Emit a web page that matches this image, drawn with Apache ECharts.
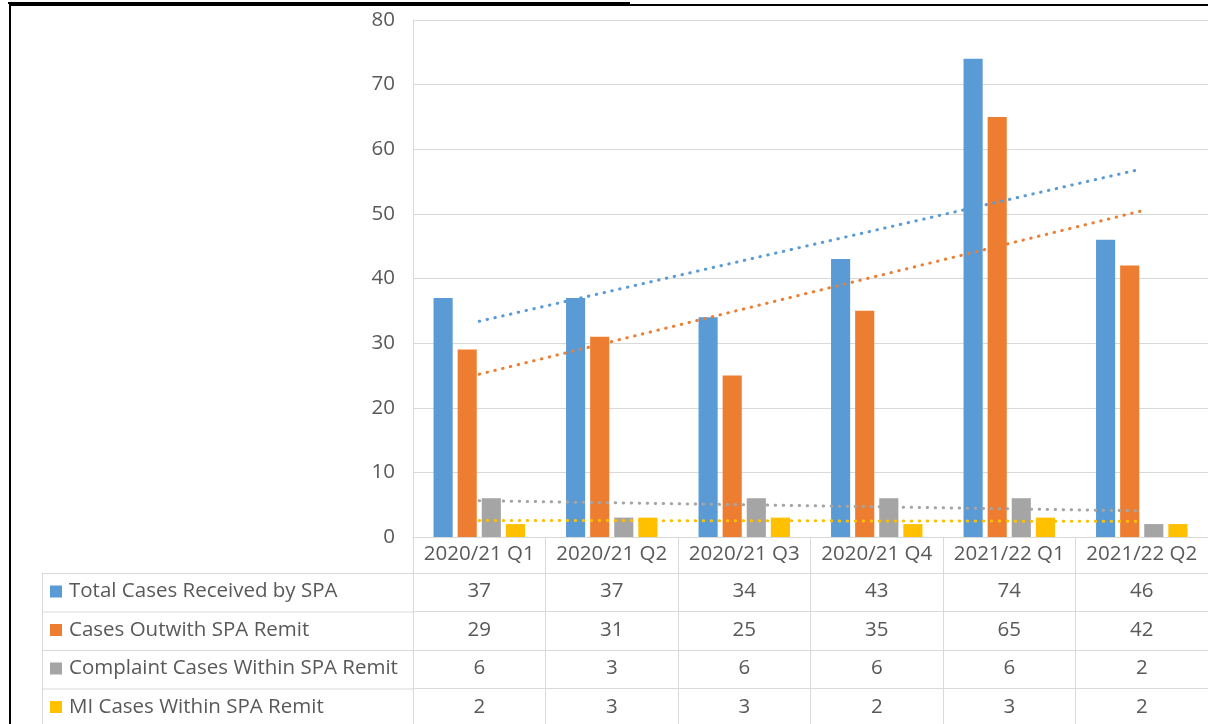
<!DOCTYPE html>
<html>
<head>
<meta charset="utf-8">
<script src="https://cdn.jsdelivr.net/npm/echarts@6/dist/echarts.min.js"></script>
<style>
  html, body { margin: 0; padding: 0; background: #fff; }
  #chart { width: 1208px; height: 724px; }
</style>
</head>
<body>
<div id="chart"></div>
<script>
// categories (quarters)
var quarters = ['2020/21 Q1', '2020/21 Q2', '2020/21 Q3', '2020/21 Q4', '2021/22 Q1', '2021/22 Q2'];
// series names
var seriesNames = ['Total Cases Received by SPA', 'Cases Outwith SPA Remit', 'Complaint Cases Within SPA Remit', 'MI Cases Within SPA Remit'];
// values per series
var totalCases = [37, 37, 34, 43, 74, 46];
var outwithCases = [29, 31, 25, 35, 65, 42];
var complaintCases = [6, 3, 6, 6, 6, 2];
var miCases = [2, 3, 3, 2, 3, 2];
// y axis range
var yMin = 0, yMax = 80, yStep = 10;

var allValues = [totalCases, outwithCases, complaintCases, miCases];
var colors = ['#5B9BD5', '#ED7D31', '#A5A5A5', '#FFC000'];
var textColor = '#595959';
var gridColor = '#D9D9D9';
var fontFamily = '"Open Sans", "Liberation Sans", sans-serif';
var fontSize = 20.5;

// 表格行的位置
var plotLeft = 413, plotBottom = 537;
var rowTops = [537, 573, 611.5, 650, 688.5];

// Excel 的线性趋势线（最小二乘）
function trendOf(vals) {
    var n = vals.length, sx = 0, sy = 0, sxy = 0, sxx = 0;
    for (var i = 0; i < n; i++) {
        sx += i; sy += vals[i]; sxy += i * vals[i]; sxx += i * i;
    }
    var slope = (n * sxy - sx * sy) / (n * sxx - sx * sx);
    var icpt = (sy - slope * sx) / n;
    var out = [];
    for (var j = 0; j < n; j++) out.push(+(icpt + slope * j).toFixed(3));
    return out;
}

var chart = echarts.init(document.getElementById('chart'));

// 数据表的几行：每行是一个额外的 x 轴
var xAxes = [{
    type: 'category',
    data: quarters,
    gridIndex: 0,
    position: 'bottom',
    boundaryGap: true,
    axisLine: { show: true, lineStyle: { color: gridColor, width: 1 } },
    axisTick: { show: true, alignWithLabel: false, length: rowTops[1] - rowTops[0], lineStyle: { color: gridColor } },
    axisLabel: { color: textColor, fontSize: fontSize, fontFamily: fontFamily, margin: 7, interval: 0 }
}];
for (var r = 0; r < allValues.length; r++) {
    (function (vals, r) {
        var h = (r + 2 < rowTops.length ? rowTops[r + 2] : 730) - rowTops[r + 1];
        xAxes.push({
            type: 'category',
            data: quarters,
            gridIndex: 0,
            position: 'bottom',
            offset: rowTops[r + 1] - plotBottom,
            boundaryGap: true,
            axisLine: { show: true, lineStyle: { color: gridColor, width: 1 } },
            axisTick: { show: true, alignWithLabel: false, length: h, lineStyle: { color: gridColor } },
            axisLabel: {
                color: textColor, fontSize: fontSize, fontFamily: fontFamily, margin: 8, interval: 0,
                formatter: function (v, i) { return String(vals[i]); }
            }
        });
    })(allValues[r], r);
}

var series = [];
allValues.forEach(function (vals, i) {
    series.push({
        name: seriesNames[i],
        type: 'bar',
        xAxisIndex: 0,
        data: vals,
        itemStyle: { color: colors[i] },
        barGap: '26%',
        barCategoryGap: '31%'
    });
});
allValues.forEach(function (vals, i) {
    series.push({
        name: seriesNames[i] + ' trend',
        type: 'line',
        xAxisIndex: 0,
        data: trendOf(vals),
        symbol: 'none',
        z: 5,
        lineStyle: { color: colors[i], width: 3, type: [0.5, 7.5], cap: 'round' }
    });
});

// 图例放在表格左列
var legends = seriesNames.map(function (name, i) {
    return {
        data: [name],
        left: 50,
        top: rowTops[i + 1] + 8,
        padding: 0,
        icon: 'rect',
        itemWidth: 12,
        itemHeight: 12,
        selectedMode: false,
        textStyle: { color: textColor, fontSize: fontSize, fontFamily: fontFamily, padding: [0, 0, 0, 2] }
    };
});

// 左列和外框的线
var graphics = [];
for (var k = 1; k < rowTops.length; k++) {
    graphics.push({ type: 'line', shape: { x1: 42, y1: rowTops[k] + 0.5, x2: plotLeft, y2: rowTops[k] + 0.5 }, style: { stroke: gridColor, lineWidth: 1 } });
}
graphics.push({ type: 'line', shape: { x1: 42.5, y1: rowTops[1], x2: 42.5, y2: 724 }, style: { stroke: gridColor, lineWidth: 1 } });
graphics.push({ type: 'line', shape: { x1: 9, y1: 5, x2: 1208, y2: 5 }, style: { stroke: '#000', lineWidth: 2 } });
graphics.push({ type: 'line', shape: { x1: 8, y1: 3, x2: 630, y2: 3 }, style: { stroke: '#000', lineWidth: 2 } });
graphics.push({ type: 'line', shape: { x1: 10, y1: 4, x2: 10, y2: 724 }, style: { stroke: '#000', lineWidth: 2 } });

var option = {
    animation: false,
    backgroundColor: '#fff',
    grid: { left: plotLeft, right: 0, top: 20, bottom: 724 - plotBottom, containLabel: false },
    legend: legends,
    xAxis: xAxes,
    yAxis: {
        type: 'value',
        min: yMin,
        max: yMax,
        interval: yStep,
        axisLine: { show: true, lineStyle: { color: gridColor } },
        axisTick: { show: false },
        splitLine: { lineStyle: { color: gridColor, width: 1 } },
        axisLabel: { color: textColor, fontSize: fontSize, fontFamily: fontFamily, margin: 18 }
    },
    series: series,
    graphic: graphics
};
chart.setOption(option);
</script>
</body>
</html>
